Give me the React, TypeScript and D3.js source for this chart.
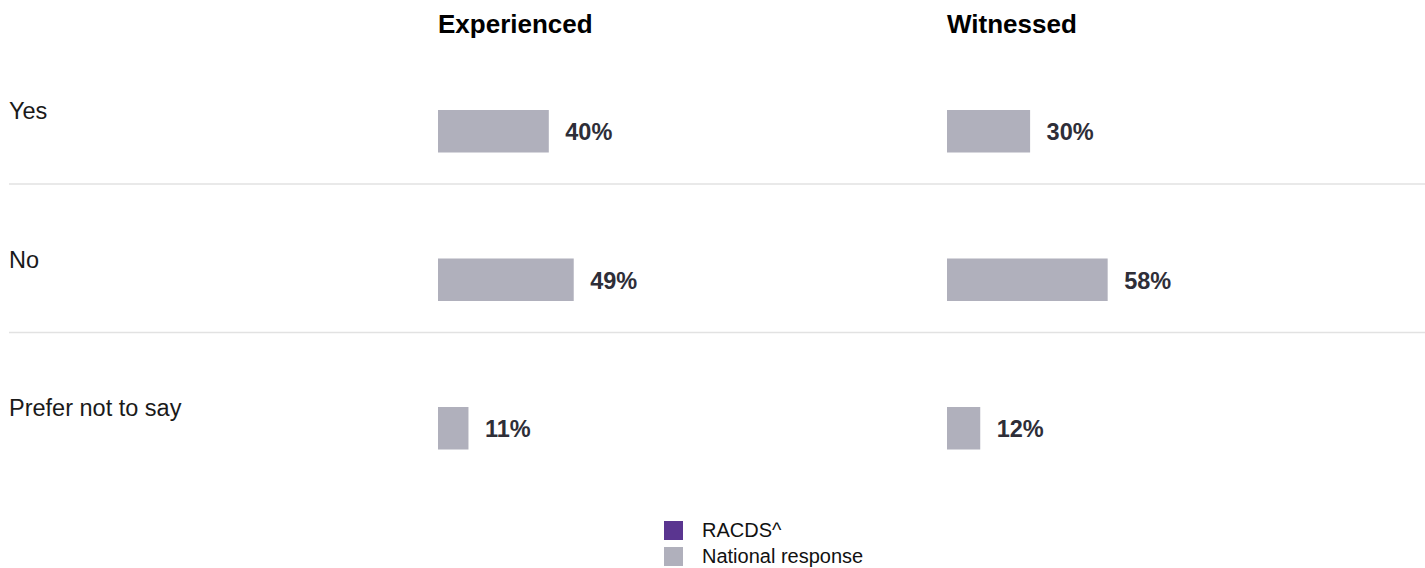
import React, { useRef, useEffect } from "react";
import * as d3 from "d3";

const categories = ["Yes", "No", "Prefer not to say"];
const panels = ["Experienced", "Witnessed"];
const nationalExperienced = [40, 49, 11];
const nationalWitnessed = [30, 58, 12];
const legendLabels = ["RACDS^", "National response"];
const legendColors = ["#5a3590", "#b0b0bc"];

const WIDTH = 1425;
const HEIGHT = 568;
const FONT = "'Liberation Sans', Arial, sans-serif";

const App: React.FC = () => {
  const svgRef = useRef<SVGSVGElement | null>(null);

  useEffect(() => {
    const svg = d3.select(svgRef.current);
    svg.selectAll("*").remove();

    const rowScale = d3
      .scaleBand<string>()
      .domain(categories)
      .range([35.5, 481])
      .paddingInner(0);

    // one panel per measure, left edges
    const panelScale = d3.scalePoint<string>().domain(panels).range([438, 947]);
    const x = d3.scaleLinear().domain([0, 100]).range([0, 277]);

    const seriesByPanel: Record<string, number[]> = {
      Experienced: nationalExperienced,
      Witnessed: nationalWitnessed,
    };

    // separators between rows
    svg
      .append("g")
      .selectAll("line")
      .data(categories.slice(0, -1))
      .join("line")
      .attr("x1", 9)
      .attr("x2", WIDTH)
      .attr("y1", (d) => (rowScale(d) ?? 0) + rowScale.bandwidth())
      .attr("y2", (d) => (rowScale(d) ?? 0) + rowScale.bandwidth())
      .attr("stroke", "#e2e2e2")
      .attr("stroke-width", 1.5);

    // row labels
    svg
      .append("g")
      .selectAll("text")
      .data(categories)
      .join("text")
      .attr("x", 9)
      .attr("y", (d) => (rowScale(d) ?? 0) + 83.5)
      .attr("font-family", FONT)
      .attr("font-size", 23.5)
      .attr("fill", "#1a1a1a")
      .text((d) => d);

    panels.forEach((p) => {
      const x0 = panelScale(p) ?? 0;
      const values = seriesByPanel[p];
      const g = svg.append("g").attr("transform", `translate(${x0},0)`);

      g.append("text")
        .attr("x", 0)
        .attr("y", 33)
        .attr("font-family", FONT)
        .attr("font-size", 26)
        .attr("font-weight", "bold")
        .attr("fill", "#000")
        .text(p);

      g.selectAll("rect")
        .data(values)
        .join("rect")
        .attr("x", 0)
        .attr("y", (_, i) => (rowScale(categories[i]) ?? 0) + 74.5)
        .attr("width", (d) => x(d))
        .attr("height", 42.5)
        .attr("fill", legendColors[1]);

      g.selectAll("text.value")
        .data(values)
        .join("text")
        .attr("class", "value")
        .attr("x", (d) => x(d) + 16.5)
        .attr("y", (_, i) => (rowScale(categories[i]) ?? 0) + 74.5 + 30)
        .attr("font-family", FONT)
        .attr("font-size", 23.5)
        .attr("font-weight", "bold")
        .attr("fill", "#2e2e38")
        .text((d) => `${d}%`);
    });

    // legend
    const legend = svg
      .append("g")
      .attr("transform", "translate(664,521)")
      .selectAll("g")
      .data(legendLabels)
      .join("g")
      .attr("transform", (_, i) => `translate(0,${i * 26})`);

    legend
      .append("rect")
      .attr("width", 19)
      .attr("height", 19)
      .attr("fill", (_, i) => legendColors[i]);

    legend
      .append("text")
      .attr("x", 38)
      .attr("y", 16)
      .attr("font-family", FONT)
      .attr("font-size", 20)
      .attr("fill", "#111")
      .text((d) => d);
  }, []);

  return (
    <div>
      <style>{`body{margin:0}`}</style>
      <svg
        ref={svgRef}
        width={WIDTH}
        height={HEIGHT}
        viewBox={`0 0 ${WIDTH} ${HEIGHT}`}
        style={{ display: "block", background: "#fff" }}
      ></svg>
    </div>
  );
};

export default App;
